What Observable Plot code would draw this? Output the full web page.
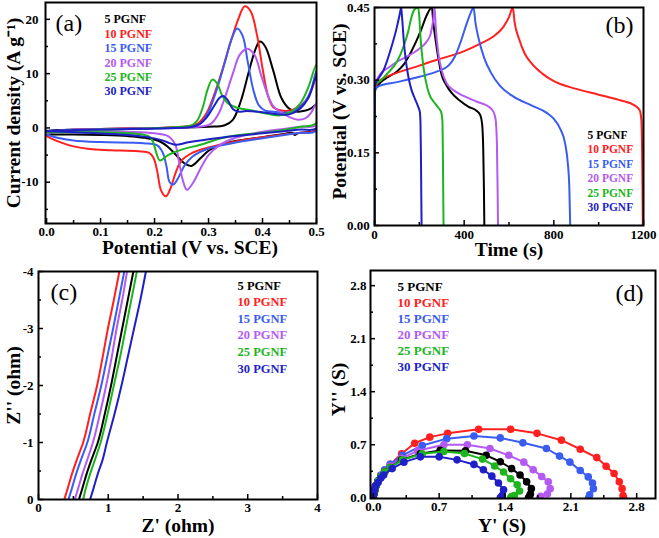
<!DOCTYPE html>
<html><head><meta charset="utf-8">
<script src="https://cdn.jsdelivr.net/npm/d3@7"></script>
<script src="https://cdn.jsdelivr.net/npm/@observablehq/plot@0.6"></script>
<style>
html,body{margin:0;padding:0;background:#fff;}
#fig{position:relative;width:659px;height:538px;overflow:hidden;background:#fff;}
</style></head><body><div id="fig"></div>
<script>
// ---------- shared ----------
const seriesNames = ["5 PGNF","10 PGNF","15 PGNF","20 PGNF","25 PGNF","30 PGNF"];
const seriesColors = ["#000000","#ff2020","#3a5cf0","#b45af2","#1db51d","#1f1fc8"];

// ---------- (a) CV: [potential V, current density A/g] ----------
const cvTicksX = [0,0.1,0.2,0.3,0.4,0.5];
const cvMinorX = [0.05,0.15,0.25,0.35,0.45];
const cvTicksY = [-10,0,10,20];
const cvMinorY = [-15,-5,5,15];
const cv5 = [[0,-0.6],[0.02,-0.4],[0.05,-0.3],[0.1,-0.2],[0.2,0],[0.3,0.2],[0.33,0.5],[0.345,1.5],[0.36,5],[0.375,10.5],[0.387,14.5],[0.395,15.9],[0.405,15],[0.42,10.5],[0.435,5.5],[0.45,3.5],[0.465,3],[0.48,3.2],[0.49,3.6],[0.5,4.3],[0.5,-0.3],[0.48,-0.8],[0.465,-1],[0.46,-1.3],[0.455,-0.9],[0.44,-1.1],[0.4,-1.7],[0.35,-2.4],[0.32,-3.2],[0.3,-4.2],[0.285,-5.6],[0.268,-7],[0.255,-6.5],[0.24,-5],[0.225,-3.5],[0.21,-2.5],[0.18,-1.8],[0.15,-1.5],[0.1,-1.3],[0.05,-1.2],[0,-1.2]];
const cv10 = [[0,-1.5],[0.01,-0.8],[0.05,-0.4],[0.1,-0.2],[0.2,0],[0.26,0.3],[0.28,0.8],[0.295,2.5],[0.31,6],[0.325,10.5],[0.34,15.5],[0.355,20],[0.367,22.4],[0.378,21.5],[0.39,17],[0.4,11],[0.41,6],[0.42,3.8],[0.435,3.2],[0.45,3.2],[0.465,3.8],[0.48,5],[0.49,6.8],[0.5,9.5],[0.5,-0.3],[0.47,-0.9],[0.44,-1.2],[0.4,-1.7],[0.35,-2.5],[0.3,-3.6],[0.27,-4.6],[0.25,-6],[0.24,-8],[0.23,-11],[0.221,-12.6],[0.212,-11.5],[0.205,-8],[0.198,-5.5],[0.19,-4.6],[0.17,-4.3],[0.12,-4.1],[0.08,-3.9],[0.05,-3.4],[0.03,-2.8],[0.01,-2],[0,-1.5]];
const cv15 = [[0,-1.2],[0.01,-0.8],[0.05,-0.5],[0.1,-0.3],[0.2,-0.1],[0.27,0.2],[0.285,0.8],[0.3,3],[0.315,7],[0.33,12],[0.343,16.5],[0.353,18.3],[0.363,17],[0.373,12],[0.383,7],[0.393,4.2],[0.405,3.2],[0.42,3],[0.44,2.8],[0.46,3.2],[0.48,5],[0.49,7],[0.5,10.5],[0.5,-0.5],[0.47,-0.9],[0.44,-1.3],[0.4,-1.9],[0.35,-2.7],[0.3,-3.8],[0.27,-5.3],[0.255,-7],[0.245,-9],[0.235,-10.4],[0.228,-10],[0.222,-7],[0.215,-4.5],[0.205,-3.2],[0.18,-2.8],[0.1,-2.6],[0.05,-2.3],[0.02,-1.8],[0,-1.2]];
const cv20 = [[0,-1],[0.02,-0.5],[0.1,-0.2],[0.2,0],[0.29,0.3],[0.305,0.8],[0.318,2.5],[0.33,5.5],[0.345,10],[0.358,13.5],[0.372,14.6],[0.385,13.5],[0.398,9.5],[0.41,6],[0.42,4],[0.435,2.8],[0.45,2],[0.465,1.5],[0.48,1.8],[0.49,2.8],[0.5,4.5],[0.5,0.5],[0.47,0.2],[0.44,-0.2],[0.4,-0.7],[0.35,-1.8],[0.32,-3.2],[0.3,-5],[0.285,-7.5],[0.272,-10],[0.26,-11.4],[0.252,-9.5],[0.245,-6],[0.238,-3],[0.225,-1.5],[0.2,-1],[0.1,-0.6],[0,-0.8]];
const cv25 = [[0,-0.8],[0.05,-0.4],[0.15,-0.2],[0.25,0.2],[0.27,0.5],[0.28,1.5],[0.29,4],[0.298,7],[0.307,8.9],[0.316,8.2],[0.325,6],[0.335,4.6],[0.35,3.8],[0.38,3.2],[0.41,2.6],[0.43,2.3],[0.45,2.8],[0.47,4.5],[0.485,7.5],[0.5,11.7],[0.5,1],[0.47,0.2],[0.44,-0.4],[0.4,-0.9],[0.35,-1.4],[0.32,-2],[0.285,-3.1],[0.25,-4],[0.225,-5],[0.21,-6],[0.203,-4.5],[0.197,-2.5],[0.19,-1.6],[0.17,-1.1],[0.1,-0.8],[0,-0.8]];
const cv30 = [[0,-0.5],[0.1,-0.3],[0.2,-0.1],[0.27,0.2],[0.285,0.8],[0.297,2],[0.31,4],[0.32,5.5],[0.327,5.9],[0.335,5.2],[0.345,3.5],[0.355,3],[0.37,3.1],[0.4,2.9],[0.43,2.5],[0.45,2.5],[0.47,3.6],[0.485,5.5],[0.5,9.5],[0.5,0],[0.47,-0.3],[0.44,-0.6],[0.4,-1],[0.35,-1.5],[0.3,-2.1],[0.26,-2.7],[0.24,-3.1],[0.228,-2.8],[0.215,-2.3],[0.18,-1.6],[0.12,-1.1],[0.05,-0.8],[0,-0.6]];

// ---------- (b) GCD: [time s, potential V] ----------
const gcdTicksX = [0,400,800,1200];
const gcdMinorX = [200,600,1000];
const gcdTicksY = [0,0.15,0.30,0.45];
const gcdMinorY = [0.075,0.225,0.375];
const gcd5 = [[0,0],[1,0.2],[3,0.28],[20,0.292],[55,0.305],[100,0.318],[130,0.332],[165,0.36],[205,0.4],[233,0.434],[256,0.45],[262,0.42],[272,0.385],[285,0.345],[300,0.31],[320,0.29],[345,0.273],[380,0.258],[420,0.245],[455,0.237],[472,0.228],[480,0.21],[485,0.16],[488,0.08],[490,0]];
const gcd10 = [[0,0],[1,0.2],[3,0.285],[20,0.298],[100,0.315],[200,0.33],[250,0.338],[300,0.345],[400,0.36],[470,0.375],[530,0.39],[575,0.41],[600,0.43],[617,0.45],[625,0.42],[645,0.385],[670,0.355],[700,0.335],[750,0.313],[800,0.298],[900,0.282],[1000,0.27],[1100,0.258],[1160,0.248],[1183,0.238],[1190,0.22],[1194,0.15],[1196,0.05],[1197,0]];
const gcd15 = [[0,0],[1,0.2],[3,0.28],[20,0.288],[100,0.296],[200,0.307],[280,0.318],[330,0.33],[360,0.35],[385,0.38],[410,0.415],[430,0.44],[442,0.45],[450,0.42],[465,0.385],[490,0.345],[520,0.315],[560,0.288],[620,0.266],[700,0.248],[770,0.232],[800,0.22],[828,0.2],[850,0.17],[862,0.13],[869,0.08],[872,0.02],[873,0]];
const gcd20 = [[0,0],[1,0.25],[3,0.29],[30,0.315],[60,0.325],[100,0.338],[150,0.35],[200,0.365],[230,0.378],[250,0.395],[262,0.425],[268,0.45],[273,0.41],[285,0.355],[300,0.32],[320,0.295],[350,0.28],[400,0.267],[460,0.255],[510,0.245],[530,0.235],[540,0.22],[546,0.17],[549,0.08],[551,0]];
const gcd25 = [[0,0],[1,0.25],[3,0.29],[30,0.3],[60,0.315],[100,0.338],[130,0.37],[150,0.4],[165,0.43],[178,0.446],[195,0.45],[200,0.43],[205,0.39],[215,0.34],[228,0.3],[245,0.27],[265,0.255],[285,0.243],[298,0.233],[303,0.215],[305,0.15],[307,0.05],[308,0]];
const gcd30 = [[0,0],[1,0.25],[3,0.29],[20,0.305],[40,0.32],[70,0.36],[100,0.41],[112,0.435],[119,0.45],[123,0.43],[130,0.385],[140,0.34],[152,0.305],[165,0.28],[180,0.262],[195,0.245],[202,0.235],[205,0.215],[207,0.15],[209,0.05],[210,0]];

// ---------- (c) Nyquist: [Z' ohm, Z'' ohm] ----------
const eisTicksX = [0,1,2,3,4];
const eisMinorX = [0.5,1.5,2.5,3.5];
const eisTicksY = [0,-1,-2,-3,-4];
const eisMinorY = [-0.5,-1.5,-2.5,-3.5];
const eis5 = [[0.58,0],[0.63,-0.2],[0.69,-0.45],[0.76,-0.7],[0.85,-1],[0.95,-1.5],[1.04,-2],[1.12,-2.5],[1.2,-3],[1.28,-3.5],[1.36,-4]];
const eis10 = [[0.37,0],[0.42,-0.2],[0.48,-0.45],[0.55,-0.7],[0.64,-1],[0.74,-1.5],[0.84,-2],[0.92,-2.5],[0.995,-3],[1.08,-3.5],[1.16,-4]];
const eis15 = [[0.43,0],[0.48,-0.2],[0.54,-0.45],[0.61,-0.7],[0.7,-1],[0.8,-1.5],[0.9,-2],[0.985,-2.5],[1.07,-3],[1.15,-3.5],[1.23,-4]];
const eis20 = [[0.52,0],[0.57,-0.2],[0.63,-0.45],[0.7,-0.7],[0.78,-1],[0.88,-1.5],[0.97,-2],[1.05,-2.5],[1.12,-3],[1.2,-3.5],[1.27,-4]];
const eis25 = [[0.64,0],[0.68,-0.2],[0.74,-0.45],[0.81,-0.7],[0.89,-1],[0.99,-1.5],[1.08,-2],[1.17,-2.5],[1.25,-3],[1.33,-3.5],[1.41,-4]];
const eis30 = [[0.74,0],[0.79,-0.2],[0.85,-0.45],[0.92,-0.7],[0.98,-1],[1.09,-1.5],[1.19,-2],[1.28,-2.5],[1.37,-3],[1.46,-3.5],[1.54,-4]];

// ---------- (d) Admittance: [Y' S, Y'' S] ----------
const admTicks = [0,0.7,1.4,2.1,2.8];
const admMinor = [0.35,1.05,1.75,2.45];
const adm5 = [[0,0],[0.005,0.05],[0.015,0.1],[0.03,0.16],[0.05,0.22],[0.08,0.28],[0.12,0.34],[0.18,0.4],[0.3,0.5],[0.5,0.58],[0.71,0.625],[0.98,0.62],[1.2,0.56],[1.35,0.475],[1.47,0.385],[1.56,0.3],[1.63,0.21],[1.68,0.12],[1.67,0.05],[1.66,0.02],[1.65,0]];
const adm10 = [[0,0],[0.005,0.05],[0.015,0.1],[0.03,0.16],[0.05,0.22],[0.08,0.29],[0.12,0.36],[0.18,0.44],[0.3,0.58],[0.44,0.72],[0.6,0.8],[0.79,0.85],[1.12,0.905],[1.46,0.905],[1.74,0.85],[2.0,0.76],[2.2,0.64],[2.375,0.53],[2.475,0.415],[2.56,0.32],[2.615,0.21],[2.645,0.12],[2.655,0.03],[2.66,0]];
const adm15 = [[0,0],[0.005,0.05],[0.015,0.1],[0.03,0.16],[0.05,0.22],[0.08,0.3],[0.12,0.37],[0.18,0.44],[0.31,0.56],[0.52,0.69],[0.78,0.78],[1.07,0.815],[1.35,0.79],[1.59,0.725],[1.84,0.65],[1.98,0.55],[2.09,0.47],[2.2,0.36],[2.285,0.275],[2.33,0.195],[2.34,0.12],[2.3,0.04],[2.29,0]];
const adm20 = [[0,0],[0.005,0.05],[0.015,0.1],[0.03,0.16],[0.05,0.22],[0.08,0.29],[0.12,0.35],[0.18,0.42],[0.3,0.52],[0.47,0.62],[0.75,0.7],[1.0,0.7],[1.24,0.65],[1.44,0.56],[1.6,0.47],[1.7,0.37],[1.79,0.28],[1.86,0.21],[1.88,0.12],[1.85,0.05],[1.78,0.02],[1.77,0]];
const adm25 = [[0,0],[0.005,0.05],[0.015,0.1],[0.03,0.16],[0.05,0.22],[0.08,0.28],[0.12,0.34],[0.18,0.4],[0.31,0.5],[0.52,0.58],[0.75,0.61],[0.97,0.585],[1.16,0.51],[1.29,0.42],[1.385,0.34],[1.46,0.25],[1.53,0.17],[1.555,0.09],[1.5,0.03],[1.47,0.015],[1.46,0]];
const adm30 = [[0,0],[0.005,0.05],[0.01,0.1],[0.02,0.15],[0.05,0.2],[0.08,0.26],[0.11,0.3],[0.2,0.385],[0.325,0.47],[0.5,0.54],[0.7,0.54],[0.89,0.5],[1.07,0.44],[1.17,0.37],[1.26,0.285],[1.33,0.195],[1.385,0.105],[1.37,0.03],[1.36,0.01],[1.35,0]];

// ---------- drawing ----------
const FONT = "'Liberation Serif','Times New Roman',serif";
const fig = document.getElementById("fig");

function makePanel(c) {
  const marks = [];
  const order = c.order || [0,1,2,3,4,5];
  for (const i of order) {
    marks.push(Plot.line(c.series[i], {x: d => d[0], y: d => d[1], stroke: seriesColors[i], strokeWidth: 2, curve: c.curve, clip: true}));
    if (c.dots) marks.push(Plot.dot(c.series[i], {x: d => d[0], y: d => d[1], fill: seriesColors[i], r: 3.8, clip: true}));
  }
  marks.push(Plot.frame({stroke: "black", strokeWidth: 2}));
  const tickText = {fontSize: 13, fontWeight: "bold", fontFamily: FONT, label: null, strokeWidth: 1.5};
  marks.push(Plot.axisX(c.xTicks, {anchor: "bottom", tickSize: -5, tickPadding: c.xPad + 5, tickFormat: c.xFmt, ...tickText}));
  marks.push(Plot.axisX(c.xMinor, {anchor: "bottom", tickSize: -3, tickFormat: () => "", label: null, strokeWidth: 1.5}));
  marks.push(Plot.axisY(c.yTicks, {anchor: "left", tickSize: -5, tickPadding: c.yPad + 5, tickFormat: c.yFmt, ...tickText}));
  marks.push(Plot.axisY(c.yMinor, {anchor: "left", tickSize: -3, tickFormat: () => "", label: null, strokeWidth: 1.5}));
  // axis titles
  marks.push(Plot.text([c.xTitle], {frameAnchor: "bottom", dy: c.xTitleDy, dx: c.xTitleDx || 0, lineAnchor: "middle", textAnchor: "middle", fontSize: 19.5, fontWeight: "bold", fontFamily: FONT}));
  marks.push(Plot.text([c.yTitle], {frameAnchor: "left", dx: c.yTitleDx, dy: c.yTitleDy || 0, rotate: -90, lineAnchor: "middle", textAnchor: "middle", fontSize: 19.5, fontWeight: "bold", fontFamily: FONT}));
  // panel letter
  marks.push(Plot.text([c.letter.text], {frameAnchor: c.letter.anchor, dx: c.letter.dx, dy: c.letter.dy, textAnchor: c.letter.anchor === "top-left" ? "start" : "end", lineAnchor: "middle", fontSize: 24, fontFamily: FONT}));
  // legend
  seriesNames.forEach((n, i) => {
    marks.push(Plot.text([n], {frameAnchor: "top-left", dx: c.legend.dx, dy: c.legend.dy + i * c.legend.step, textAnchor: "start", lineAnchor: "middle", fill: seriesColors[i], fontSize: c.legend.size, fontWeight: "bold", fontFamily: FONT}));
  });
  const svg = Plot.plot({
    width: c.width, height: c.height,
    marginTop: c.m[0], marginRight: c.m[1], marginBottom: c.m[2], marginLeft: c.m[3],
    x: {domain: c.xDomain}, y: {domain: c.yDomain},
    style: {fontFamily: FONT, color: "black", background: "transparent", overflow: "visible"},
    marks
  });
  svg.style.position = "absolute";
  svg.style.left = c.left + "px";
  svg.style.top = c.top + "px";
  svg.style.maxWidth = "none";
  fig.appendChild(svg);
}

makePanel({
  left: 0, top: 0, width: 330, height: 260, m: [2, 14, 37, 45],
  xDomain: [-0.002, 0.5], yDomain: [-17.6, 23.1],
  series: [cv5, cv10, cv15, cv20, cv25, cv30], curve: "catmull-rom",
  xTicks: cvTicksX, xMinor: cvMinorX, yTicks: cvTicksY, yMinor: cvMinorY,
  xFmt: d3.format(".1f"), yFmt: d => String(d), xPad: 3, yPad: 7,
  xTitle: "Potential (V vs. SCE)", xTitleDy: 24.5, xTitleDx: 9,
  yTitle: "Current density (A g\u207B\u00B9)", yTitleDx: -32,
  letter: {text: "(a)", anchor: "top-left", dx: 10, dy: 21},
  legend: {dx: 59, dy: 17, step: 14.4, size: 12}
});

makePanel({
  left: 330, top: 0, width: 329, height: 260, m: [7, 16, 35, 44],
  xDomain: [0, 1200], yDomain: [0, 0.45],
  series: [gcd5, gcd10, gcd15, gcd20, gcd25, gcd30], curve: "monotone-x",
  xTicks: gcdTicksX, xMinor: gcdMinorX, yTicks: gcdTicksY, yMinor: gcdMinorY,
  xFmt: d => String(d), yFmt: d3.format(".2f"), xPad: 4.5, yPad: 4.7,
  xTitle: "Time (s)", xTitleDy: 24,
  yTitle: "Potential (V vs. SCE)", yTitleDx: -35, yTitleDy: -5,
  letter: {text: "(b)", anchor: "top-right", dx: -10, dy: 18},
  legend: {dx: 213, dy: 127.5, step: 14.5, size: 11.5}
});

makePanel({
  left: 0, top: 260, width: 330, height: 278, m: [11, 13, 39, 38],
  xDomain: [0, 4], yDomain: [0, -4],
  series: [eis5, eis10, eis15, eis20, eis25, eis30], curve: "monotone-y",
  order: [1,2,3,4,5,0],
  xTicks: eisTicksX, xMinor: eisMinorX, yTicks: eisTicksY, yMinor: eisMinorY,
  xFmt: d => String(d), yFmt: d => String(d), xPad: 3, yPad: 5,
  xTitle: "Z' (ohm)", xTitleDy: 26.5,
  yTitle: "Z'' (ohm)", yTitleDx: -25,
  letter: {text: "(c)", anchor: "top-left", dx: 12, dy: 21},
  legend: {dx: 199, dy: 14, step: 16.6, size: 12.5}
});

makePanel({
  left: 330, top: 260, width: 329, height: 278, m: [10, 4, 40, 40],
  xDomain: [-0.03, 3.0], yDomain: [-0.01, 3.0],
  series: [adm5, adm10, adm15, adm20, adm25, adm30], curve: "linear", dots: true,
  order: [1,2,3,0,4,5],
  xTicks: admTicks, xMinor: admMinor, yTicks: admTicks, yMinor: admMinor,
  xFmt: d3.format(".1f"), yFmt: d3.format(".1f"), xPad: 3.5, yPad: 4,
  xTitle: "Y' (S)", xTitleDy: 27, xTitleDx: -11,
  yTitle: "Y'' (S)", yTitleDx: -32, yTitleDy: 5,
  letter: {text: "(d)", anchor: "top-right", dx: -12, dy: 23},
  legend: {dx: 27, dy: 16, step: 16, size: 13}
});
</script>
</body></html>
